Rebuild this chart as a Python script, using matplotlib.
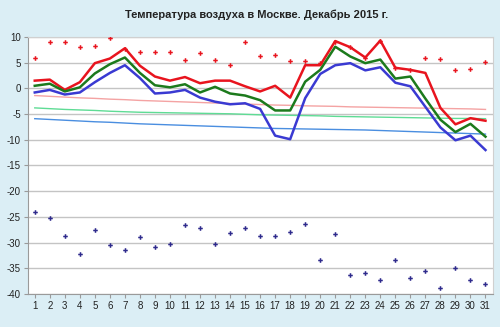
import matplotlib
matplotlib.use("Agg")
import matplotlib.pyplot as plt

# Данные: декабрь 2015, Москва
days = list(range(1, 32))

t_max = [1.5, 1.7, -0.3, 1.2, 4.9, 5.8, 7.8, 4.4, 2.3, 1.5, 2.2, 1.0, 1.5, 1.5, 0.4,
         -0.6, 0.5, -1.8, 4.5, 4.5, 9.2, 8.0, 6.0, 9.3, 4.0, 3.6, 3.0, -3.8, -7.0, -5.8, -6.3]
t_mean = [0.5, 0.9, -0.6, 0.2, 2.9, 4.7, 6.0, 3.0, 0.6, 0.2, 0.8, -0.8, 0.3, -1.0, -1.4,
          -2.3, -4.3, -4.3, 1.3, 3.6, 8.1, 6.2, 4.9, 5.6, 1.9, 2.3, -2.0, -6.1, -8.5, -6.9, -9.4]
t_min = [-0.8, -0.3, -1.2, -0.8, 1.2, 3.0, 4.5, 2.0, -1.0, -0.8, -0.3, -1.8, -2.6, -3.1, -2.9,
         -4.0, -9.2, -9.9, -1.9, 2.8, 4.5, 4.9, 3.5, 4.1, 1.1, 0.4, -3.6, -7.6, -10.1, -9.2, -12.0]

norm_max = [-1.4, -1.55, -1.7, -1.85, -1.95, -2.1, -2.2, -2.35, -2.45, -2.55, -2.65, -2.75,
            -2.85, -2.95, -3.05, -3.15, -3.25, -3.3, -3.4, -3.45, -3.5, -3.6, -3.65, -3.7,
            -3.75, -3.8, -3.85, -3.9, -3.95, -4.0, -4.1]
norm_mean = [-3.8, -3.95, -4.1, -4.2, -4.3, -4.45, -4.55, -4.65, -4.7, -4.75, -4.8, -4.85,
             -4.9, -4.95, -5.05, -5.15, -5.2, -5.25, -5.3, -5.35, -5.45, -5.5, -5.55, -5.6,
             -5.65, -5.7, -5.75, -5.8, -5.85, -5.85, -5.9]
norm_min = [-5.9, -6.05, -6.2, -6.35, -6.5, -6.6, -6.75, -6.9, -7.0, -7.1, -7.2, -7.3,
            -7.4, -7.5, -7.6, -7.7, -7.8, -7.85, -7.9, -7.95, -8.0, -8.05, -8.1, -8.2,
            -8.3, -8.4, -8.5, -8.6, -8.7, -8.8, -8.9]

rec_max = [6.0, 9.0, 9.0, 8.1, 8.2, 9.7, 7.6, 7.1, 7.1, 7.1, 5.5, 6.9, 5.5, 4.6, 9.1,
           6.3, 6.5, 5.3, 5.3, 4.9, 9.1, 8.0, 6.0, 9.3, 4.0, 3.6, 5.9, 5.8, 3.6, 3.8, 5.2]
rec_min = [-24.1, -25.2, -28.7, -32.2, -27.6, -30.4, -31.4, -29.0, -30.9, -30.2, -26.6,
           -27.2, -30.2, -28.2, -27.2, -28.8, -28.7, -28.0, -26.4, -33.4, -28.3, -36.3,
           -36.0, -37.2, -33.4, -36.8, -35.5, -38.8, -34.9, -37.2, -38.1]

yticks = list(range(-40, 11, 5))

bg = '#dbeef5'
plt.rcParams['font.family'] = ['Liberation Sans', 'DejaVu Sans']

fig = plt.figure(figsize=(5.0, 3.27), dpi=100, facecolor=bg)
ax = fig.add_axes([0.056, 0.101, 0.93, 0.786])
ax.set_facecolor('white')

# нормы
ax.plot(days, norm_max, color='#f4a3a3', lw=1.0, zorder=2)
ax.plot(days, norm_mean, color='#5fdc95', lw=1.0, zorder=2)
ax.plot(days, norm_min, color='#4a8ee0', lw=1.0, zorder=2)

# фактические значения
ax.plot(days, t_max, color='#e8141e', lw=1.8, zorder=4)
ax.plot(days, t_mean, color='#1c7a1c', lw=1.8, zorder=4)
ax.plot(days, t_min, color='#3a3ad2', lw=1.8, zorder=4)

# рекорды
ax.plot(days, rec_max, ls='none', marker='P', ms=3.3, color='#e8141e', mew=0, zorder=5)
ax.plot(days, rec_min, ls='none', marker='P', ms=3.3, color='#2e2a8c', mew=0, zorder=5)

ax.set_xlim(0.55, 31.5)
ax.set_ylim(-40, 10)
ax.set_xticks(days)
ax.set_xticklabels([str(d) for d in days])
ax.set_yticks(yticks)
ax.set_yticklabels([str(v) for v in yticks])

ax.yaxis.grid(True, color='#c4c4c4', lw=1.0)
ax.set_axisbelow(True)
for side in ['top', 'right']:
    ax.spines[side].set_color('#d0d0d0')
    ax.spines[side].set_linewidth(0.8)
for side in ['left', 'bottom']:
    ax.spines[side].set_color('#9a9a9a')
    ax.spines[side].set_linewidth(0.8)

ax.tick_params(axis='both', labelsize=7, colors='#9a9a9a', labelcolor='#222222',
               length=3, width=0.8, pad=2)

fig.text(0.514, 0.955, 'Температура воздуха в Москве. Декабрь 2015 г.',
         ha='center', va='center', fontsize=8, fontweight='bold', color='#222222')

fig.savefig('out.png', dpi=100, facecolor=bg)
